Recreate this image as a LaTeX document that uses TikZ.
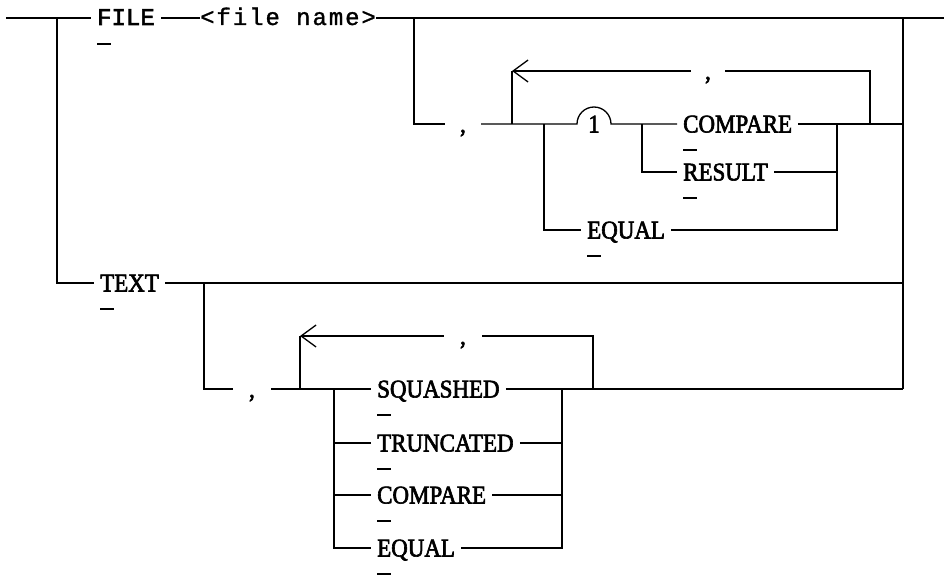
\documentclass[tikz,border=0pt]{standalone}
\usepackage{fontspec}
\setmainfont{Liberation Serif}[FakeStretch=0.9, FakeBold=2.4]
\newfontfamily\railmono{Liberation Mono}[FakeBold=2.4]
\newfontfamily\railmonowide{Liberation Mono}[LetterSpace=8, FakeBold=1.2]
\usetikzlibrary{arrows.meta}
% short bar under the first letter (minimal abbreviation)
\newcommand{\minabbr}[1][18.5pt]{\smash{\rlap{\rule[-#1]{14pt}{2pt}}}}

\tikzset{
  rail/.style={line width=1.3pt},
  kw/.style={font=\fontsize{25.5}{28}\selectfont, inner xsep=6pt, inner ysep=0pt,
    text height=16.9pt, text depth=0pt, anchor=west},
  mono/.style={kw, font=\railmono\fontsize{24}{26}\selectfont, text height=14pt},
  sep/.style={kw, anchor=center},
  back/.style={rail, -{Straight Barb[length=15pt,width=22pt]}}
}

\begin{document}
\begin{tikzpicture}[x=1pt,y=1pt]
  \useasboundingbox (0,0) rectangle (944,-575);

  % main line
  \coordinate (start) at (6,-18);
  \coordinate (jfile) at (57,-18);
  \coordinate (jopt) at (414,-18);
  \coordinate (jright) at (903,-18);
  \coordinate (end) at (944,-18);
  \node[mono] (file) at (91,-18) {\minabbr[20pt]FILE};
  \node[mono, inner xsep=0pt, font=\railmonowide\fontsize{24}{26}\selectfont]
    (fname) at (200,-18) {<file name>};
  \draw[rail] (start) -- (file.west);
  \draw[rail] (file.east) -- (fname.west);
  \draw[rail] (fname.east) -- (jopt) -- (jright) -- (end);

  % FILE options
  \node[sep, inner xsep=15pt] (fc1) at (463,-124) {,};
  \coordinate (fl) at (512,-124);
  \coordinate (flt) at (512,-71);
  \coordinate (fj1) at (544,-124);
  \coordinate (bump) at (577,-124);
  \coordinate (fj2) at (642,-124);
  \coordinate (fj3) at (837,-124);
  \coordinate (fr) at (870,-124);
  \coordinate (frt) at (870,-71);
  \coordinate (rfile) at (903,-124);
  \node[sep, inner xsep=0pt] (one) at (594,-124) {1};
  \node[sep, inner xsep=14pt] (fc2) at (708,-71) {,};
  \node[kw] (fcmp) at (677,-124) {\minabbr COMPARE};
  \node[kw] (fres) at (677,-172) {\minabbr RESULT};
  \node[kw] (feq) at (581,-230) {\minabbr EQUAL};
  \draw[rail] (jopt) |- (fc1.west);
  \draw[rail] (fc1.east) -- (fl) -- (fj1) -- (bump) arc (180:0:17) -- (fj2) -- (fcmp.west);
  \draw[rail] (fcmp.east) -- (fj3) -- (fr) -- (rfile);
  \draw[rail] (fr) -- (frt) -- (fc2.east);
  \draw[back] (fc2.west) -- (flt);
  \draw[rail] (flt) -- (fl);
  \draw[rail] (fj2) |- (fres.west);
  \draw[rail] (fres.east) -| (fj3);
  \draw[rail] (fj1) |- (feq.west);
  \draw[rail] (feq.east) -| (fj3);

  % TEXT
  \node[kw] (text) at (94,-283) {\minabbr TEXT};
  \coordinate (jtext) at (204,-283);
  \coordinate (rtext) at (903,-283);
  \coordinate (rsq) at (903,-389);
  \draw[rail] (jfile) |- (text.west);
  \draw[rail] (text.east) -- (jtext) -- (rtext);
  \draw[rail] (jright) -- (rsq);

  % TEXT options
  \node[sep, inner xsep=16pt] (tc1) at (252,-389) {,};
  \coordinate (tl) at (300,-389);
  \coordinate (tlt) at (300,-336);
  \coordinate (tj1) at (334,-389);
  \coordinate (tj2) at (562,-389);
  \coordinate (tr) at (593,-389);
  \coordinate (trt) at (593,-336);
  \node[sep, inner xsep=16pt] (tc2) at (463,-336) {,};
  \node[kw] (tsq) at (371,-389) {\minabbr SQUASHED};
  \node[kw] (ttr) at (371,-443) {\minabbr TRUNCATED};
  \node[kw] (tcmp) at (371,-495) {\minabbr COMPARE};
  \node[kw] (teq) at (371,-548) {\minabbr EQUAL};
  \draw[rail] (jtext) |- (tc1.west);
  \draw[rail] (tc1.east) -- (tl) -- (tj1) -- (tsq.west);
  \draw[rail] (tsq.east) -- (tj2) -- (tr) -- (rsq);
  \draw[rail] (tr) -- (trt) -- (tc2.east);
  \draw[back] (tc2.west) -- (tlt);
  \draw[rail] (tlt) -- (tl);
  \foreach \n in {ttr,tcmp,teq}
    \draw[rail] (tj1) |- (\n.west) (\n.east) -| (tj2);
\end{tikzpicture}
\end{document}
